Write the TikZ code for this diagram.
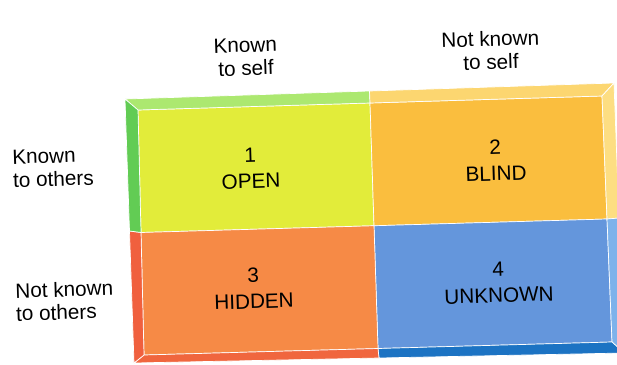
\documentclass[tikz,border=0pt]{standalone}
\usepackage{fontspec}
\setmainfont{Liberation Sans}
\usetikzlibrary{calc}
\definecolor{openc}{RGB}{226,236,58}
\definecolor{opentop}{RGB}{172,232,112}
\definecolor{openleft}{RGB}{98,204,84}
\definecolor{blindc}{RGB}{250,190,62}
\definecolor{blindtop}{RGB}{252,214,112}
\definecolor{blindright}{RGB}{253,222,130}
\definecolor{hiddenc}{RGB}{246,138,70}
\definecolor{hiddenleft}{RGB}{240,96,62}
\definecolor{hiddenbot}{RGB}{240,102,62}
\definecolor{unknownc}{RGB}{100,150,220}
\definecolor{unknownright}{RGB}{125,178,235}
\definecolor{unknownbot}{RGB}{28,115,195}
\begin{document}
\begin{tikzpicture}[x=1pt,y=-1pt,
  face/.style={draw=white, line width=0.7pt, line join=round},
  lbl/.style={inner sep=0pt, font=\fontsize{20.7}{23}\selectfont, rotate=1.8},
  cellname/.style={inner sep=0pt, align=center, font=\fontsize{20.7}{26}\selectfont, rotate=1.8}]
\useasboundingbox (0,0) rectangle (617,364);
\clip (0,0) rectangle (617,364);
\fill[white] (0,0) rectangle (617,364);
% outer corners
\coordinate (OTL) at (125,99);
\coordinate (OTR) at (614,83);
\coordinate (OBR) at (624,353);
\coordinate (OBL) at (134,363);
% inner corners
\coordinate (ITL) at (138,110);
\coordinate (ITR) at (602,96);
\coordinate (IBR) at (612,342);
\coordinate (IBL) at (144,355);
% midpoints
\coordinate (OT) at ($(OTL)!0.5!(OTR)$);
\coordinate (OB) at ($(OBL)!0.5!(OBR)$);
\coordinate (OL) at ($(OTL)!0.5!(OBL)$);
\coordinate (OR) at ($(OTR)!0.5!(OBR)$);
\coordinate (IT) at ($(ITL)!0.5!(ITR)$);
\coordinate (IB) at ($(IBL)!0.5!(IBR)$);
\coordinate (IL) at ($(ITL)!0.5!(IBL)$);
\coordinate (IR) at ($(ITR)!0.5!(IBR)$);
\coordinate (C) at ($(IT)!0.5!(IB)$);
% cells
\filldraw[face, fill=openc] (ITL) -- (IT) -- (C) -- (IL) -- cycle;
\filldraw[face, fill=blindc] (IT) -- (ITR) -- (IR) -- (C) -- cycle;
\filldraw[face, fill=unknownc] (C) -- (IR) -- (IBR) -- (IB) -- cycle;
\filldraw[face, fill=hiddenc] (IL) -- (C) -- (IB) -- (IBL) -- cycle;
% bevels
\filldraw[face, fill=opentop] (OTL) -- (OT) -- (IT) -- (ITL) -- cycle;
\filldraw[face, fill=blindtop] (OT) -- (OTR) -- (ITR) -- (IT) -- cycle;
\filldraw[face, fill=blindright] (OTR) -- (OR) -- (IR) -- (ITR) -- cycle;
\filldraw[face, fill=unknownright] (OR) -- (OBR) -- (IBR) -- (IR) -- cycle;
\filldraw[face, fill=unknownbot] (OBR) -- (OB) -- (IB) -- (IBR) -- cycle;
\filldraw[face, fill=hiddenbot] (OB) -- (OBL) -- (IBL) -- (IB) -- cycle;
\filldraw[face, fill=hiddenleft] (OBL) -- (OL) -- (IL) -- (IBL) -- cycle;
\filldraw[face, fill=openleft] (OL) -- (OTL) -- (ITL) -- (IL) -- cycle;
% headings
\node[lbl, align=center, anchor=north] (kself) at (245,38) {Known\\to self};
\node[lbl, align=center, anchor=north] (nkself) at (490,31) {Not known\\to self};
\node[lbl, align=left, anchor=north west] (koth) at (12,150) {Known\\to others};
\node[lbl, align=left, anchor=north west] (nkoth) at (15,283) {Not known\\to others};
% cell labels
\node[cellname, anchor=north] (open) at (250,148) {1\\OPEN};
\node[cellname, anchor=north] (blind) at (495,140) {2\\BLIND};
\node[cellname, anchor=north] (hidden) at (253,268) {3\\HIDDEN};
\node[cellname, anchor=north] (unknown) at (498,262) {4\\UNKNOWN};
\end{tikzpicture}
\end{document}
